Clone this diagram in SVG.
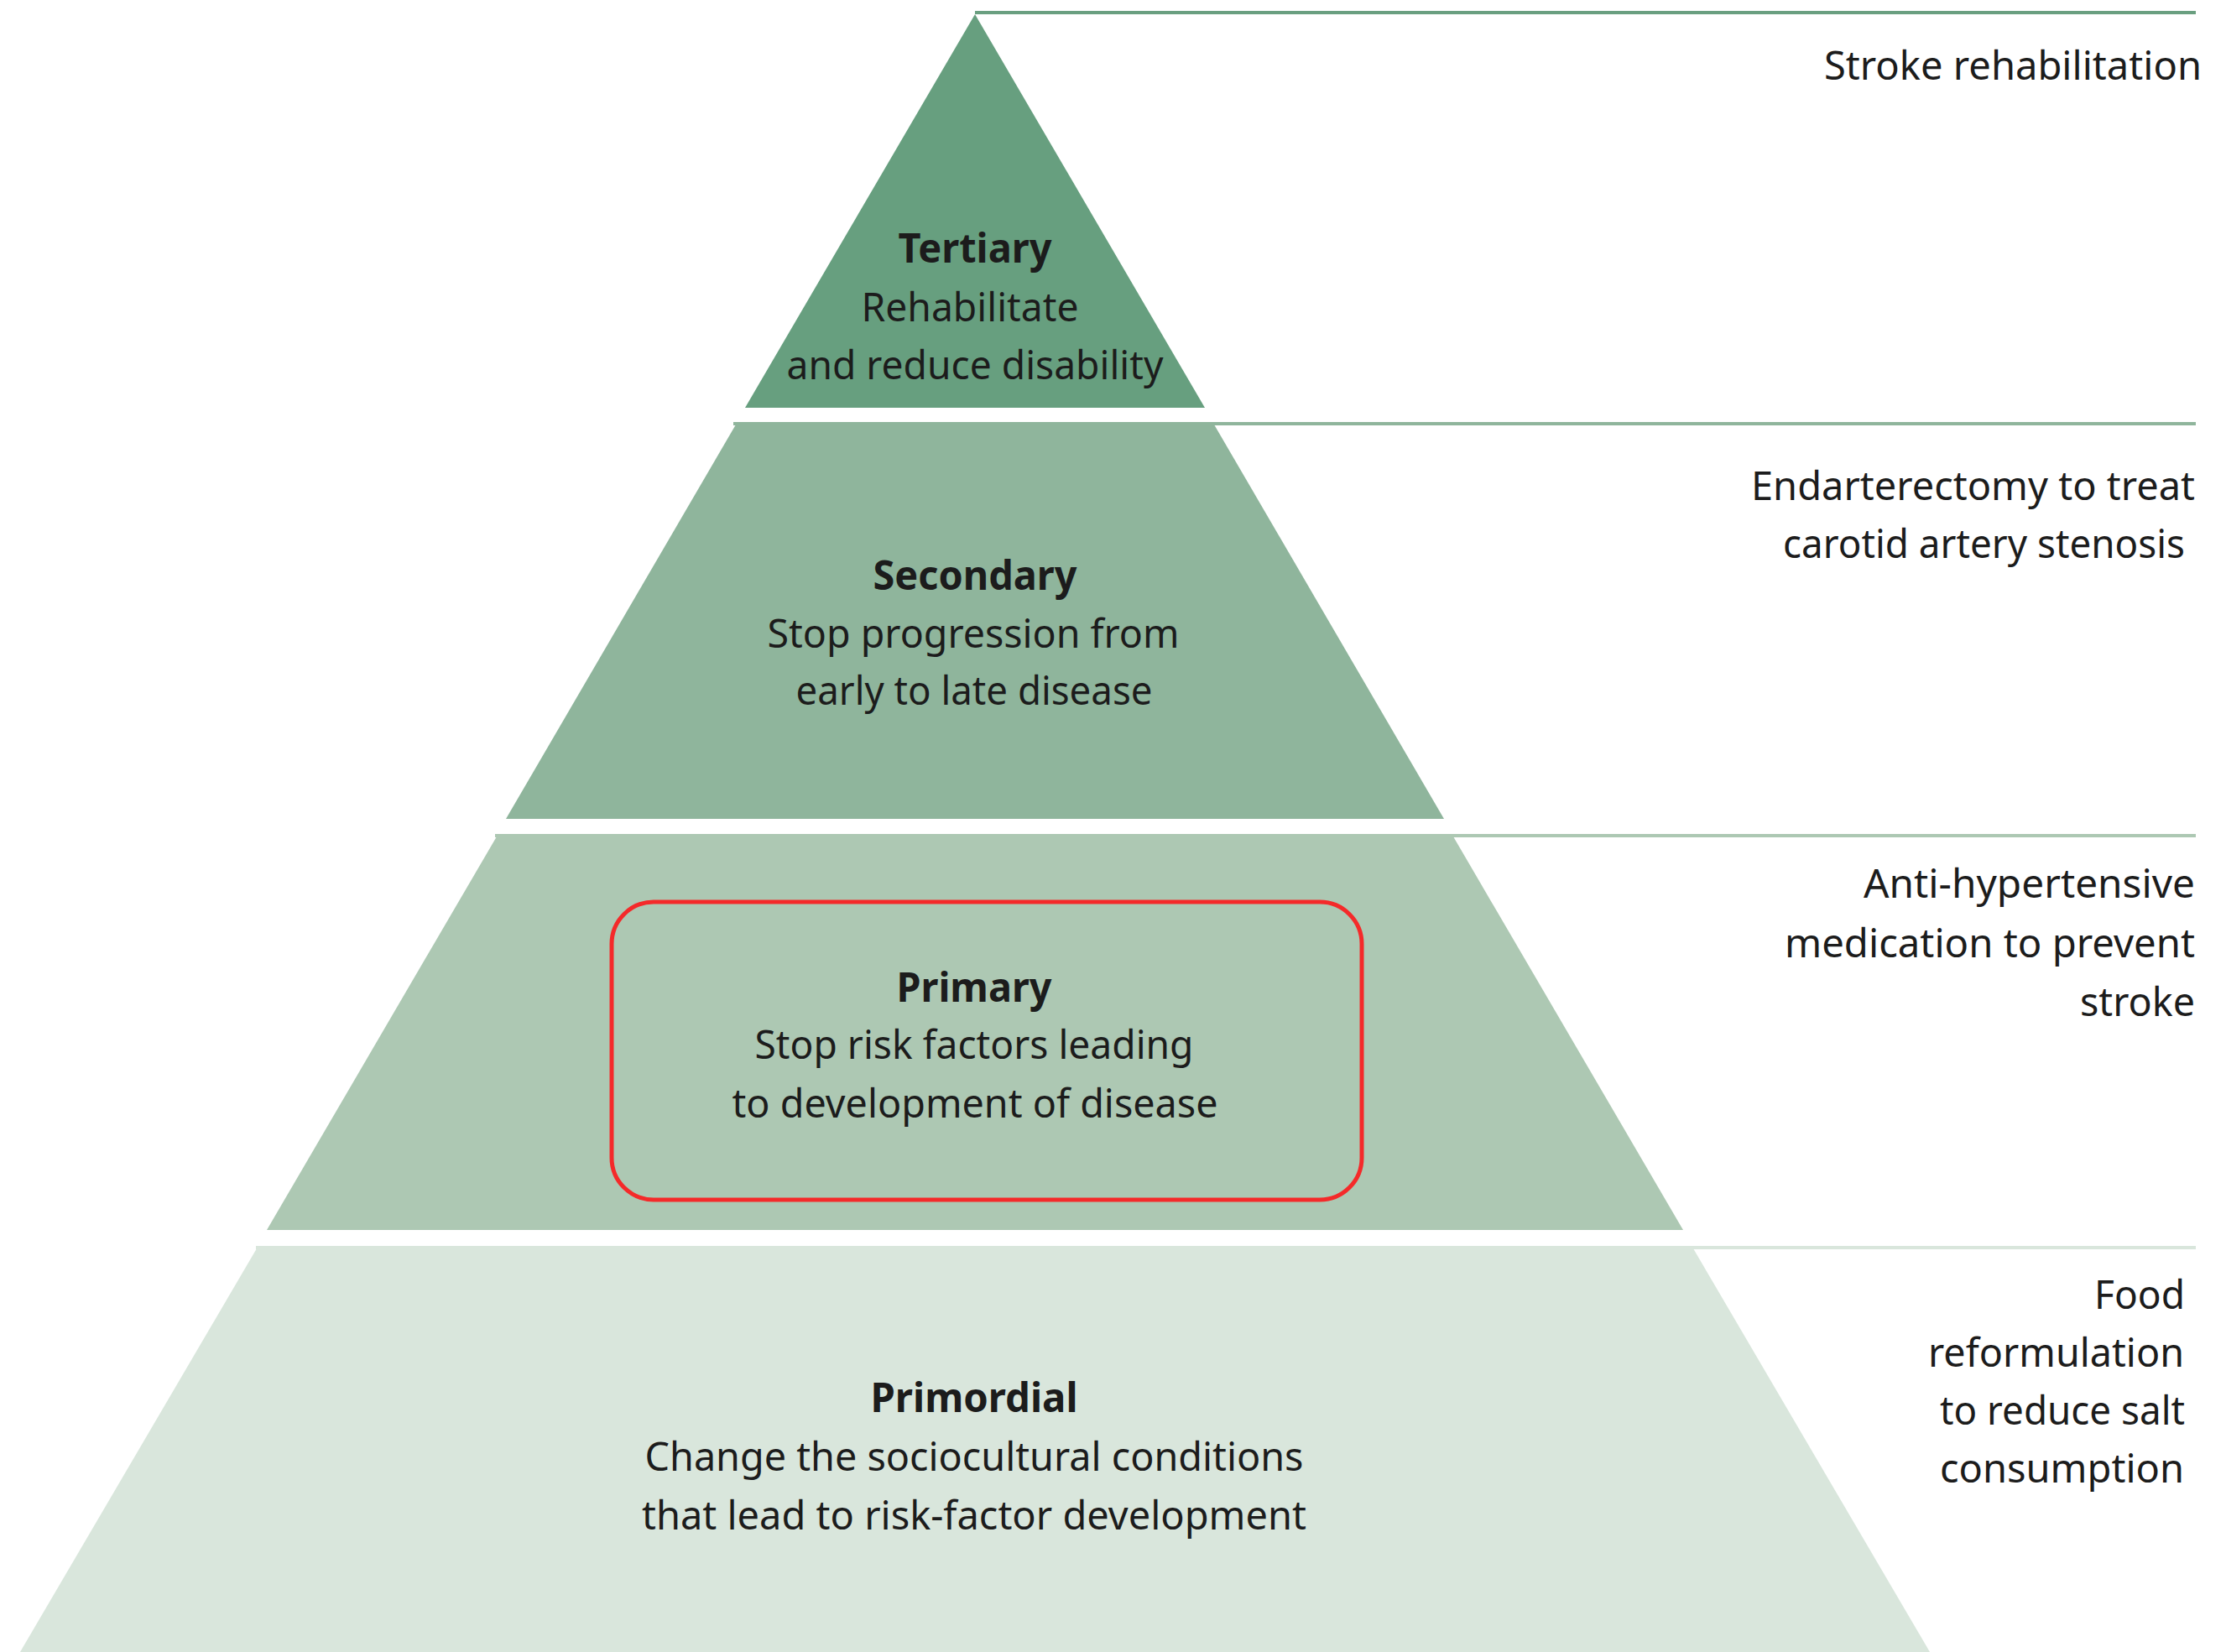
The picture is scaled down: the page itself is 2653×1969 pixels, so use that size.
<svg xmlns="http://www.w3.org/2000/svg" width="2653" height="1969" viewBox="0 0 2653 1969">
<style>
  .lbl { font-family: "Noto Sans", "Open Sans", "Liberation Sans", sans-serif; font-size: 48px; fill: #1c1c1c; }
  .hd { font-weight: bold; }
  .mid { text-anchor: middle; }
  .side { font-family: "Noto Sans", "Open Sans", "Liberation Sans", sans-serif; font-size: 48px; fill: #1c1c1c; text-anchor: end; }
</style>
<rect x="0" y="0" width="2653" height="1969" fill="#ffffff"/>
<g id="connectors" stroke-width="4" fill="none">
  <line x1="1162" y1="15" x2="2617" y2="15" stroke="#6a9f80"/>
  <line x1="874" y1="505" x2="2617" y2="505" stroke="#8fb59c"/>
  <line x1="590" y1="996" x2="2617" y2="996" stroke="#adc8b3"/>
  <line x1="305" y1="1487" x2="2617" y2="1487" stroke="#d9e6dc"/>
</g>
<g id="tertiary">
  <polygon points="1162,17 1436,486 888,486" fill="#679f7f"/>
  <text class="lbl hd mid" x="1162" y="313" textLength="183" lengthAdjust="spacingAndGlyphs">Tertiary</text>
  <text class="lbl mid" x="1156" y="383" textLength="259" lengthAdjust="spacingAndGlyphs">Rehabilitate</text>
  <text class="lbl mid" x="1162" y="452" textLength="449" lengthAdjust="spacingAndGlyphs">and reduce disability</text>
</g>
<g id="secondary">
  <polygon points="877,506 1447,506 1721,976 603,976" fill="#8fb59c"/>
  <text class="lbl hd mid" x="1162" y="703" textLength="243" lengthAdjust="spacingAndGlyphs">Secondary</text>
  <text class="lbl mid" x="1160" y="772" textLength="491" lengthAdjust="spacingAndGlyphs">Stop progression from</text>
  <text class="lbl mid" x="1161" y="840" textLength="425" lengthAdjust="spacingAndGlyphs">early to late disease</text>
</g>
<g id="primary">
  <polygon points="592,997 1732,997 2006,1466 318,1466" fill="#adc8b3"/>
  <rect x="729" y="1075" width="894" height="355" rx="50" ry="50" fill="none" stroke="#f42a2a" stroke-width="5"/>
  <text class="lbl hd mid" x="1161" y="1194" textLength="185" lengthAdjust="spacingAndGlyphs">Primary</text>
  <text class="lbl mid" x="1161" y="1262" textLength="523" lengthAdjust="spacingAndGlyphs">Stop risk factors leading</text>
  <text class="lbl mid" x="1162" y="1332" textLength="579" lengthAdjust="spacingAndGlyphs">to development of disease</text>
</g>
<g id="primordial">
  <polygon points="306,1488 2018,1488 2300,1969 24,1969" fill="#d9e6dc"/>
  <text class="lbl hd mid" x="1161" y="1683" textLength="247" lengthAdjust="spacingAndGlyphs">Primordial</text>
  <text class="lbl mid" x="1161" y="1753" textLength="785" lengthAdjust="spacingAndGlyphs">Change the sociocultural conditions</text>
  <text class="lbl mid" x="1161" y="1823" textLength="792" lengthAdjust="spacingAndGlyphs">that lead to risk-factor development</text>
</g>
<g id="example-tertiary">
  <text class="side" x="2624" y="95" textLength="450" lengthAdjust="spacingAndGlyphs">Stroke rehabilitation</text>
</g>
<g id="example-secondary">
  <text class="side" x="2616" y="596" textLength="529" lengthAdjust="spacingAndGlyphs">Endarterectomy to treat</text>
  <text class="side" x="2604" y="665" textLength="479" lengthAdjust="spacingAndGlyphs">carotid artery stenosis</text>
</g>
<g id="example-primary">
  <text class="side" x="2616" y="1070" textLength="395" lengthAdjust="spacingAndGlyphs">Anti-hypertensive</text>
  <text class="side" x="2616" y="1141" textLength="489" lengthAdjust="spacingAndGlyphs">medication to prevent</text>
  <text class="side" x="2616" y="1211" textLength="137" lengthAdjust="spacingAndGlyphs">stroke</text>
</g>
<g id="example-primordial">
  <text class="side" x="2604" y="1560" textLength="108" lengthAdjust="spacingAndGlyphs">Food</text>
  <text class="side" x="2603" y="1629" textLength="305" lengthAdjust="spacingAndGlyphs">reformulation</text>
  <text class="side" x="2604" y="1698" textLength="292" lengthAdjust="spacingAndGlyphs">to reduce salt</text>
  <text class="side" x="2603" y="1767" textLength="291" lengthAdjust="spacingAndGlyphs">consumption</text>
</g>
</svg>
